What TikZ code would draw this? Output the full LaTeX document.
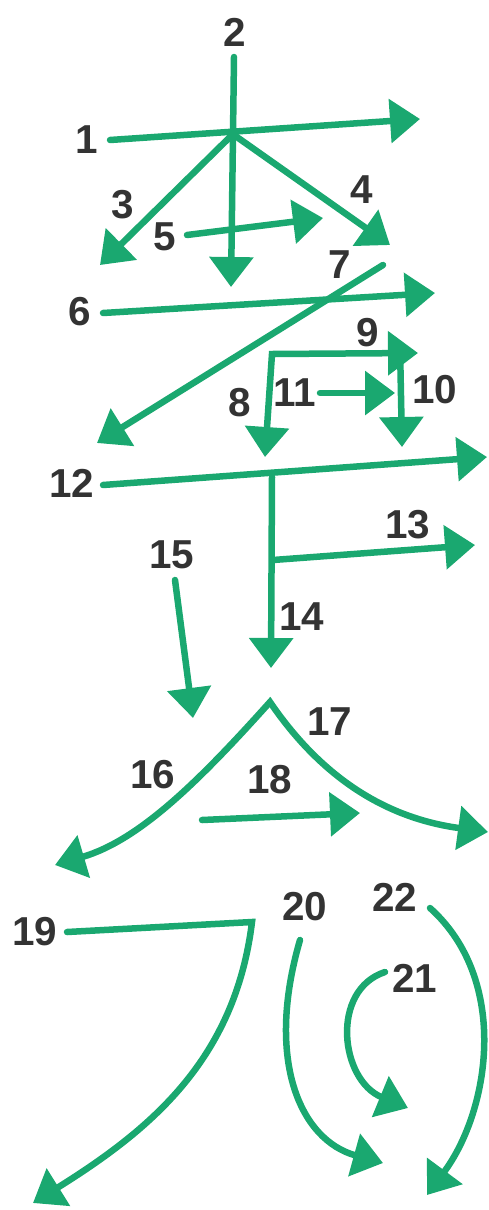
\documentclass[tikz,border=0pt]{standalone}
\usepackage{fontspec}
\setmainfont{Liberation Sans}
\usetikzlibrary{arrows.meta}
\definecolor{strokegreen}{RGB}{26,168,112}
\definecolor{numgray}{RGB}{51,51,51}
\begin{document}
\begin{tikzpicture}[x=0.02cm,y=-0.02cm,line join=round,line cap=round,
	stroke/.style={strokegreen,line width=0.13cm,-{Triangle[length=0.6cm,width=0.86cm]}},
	both/.style={stroke,{Triangle[length=0.6cm,width=0.86cm]}-{Triangle[length=0.6cm,width=0.86cm]},line join=miter},
	num/.style={text=numgray,font=\fontsize{23}{26}\selectfont\bfseries,inner sep=0pt}]
	\useasboundingbox (0,0) rectangle (489,1210);
	% stroke numbers
	\foreach \n/\x/\y in {1/87/140,2/235/32,3/123/205,4/362/190,5/165/237,6/80/312,
		7/340/265,8/240/403,9/368/333,10/435/390,11/295/393,12/72/483,13/408/525,
		14/302/617,15/172/555,16/153/775,17/330/722,18/270/780,19/35/932,20/305/907,
		21/415/978,22/395/897}
	\node[num] (n\n) at (\x,\y) {\n};
	% upper part
	\draw[stroke] (110,140)--(420,119);
	\draw[stroke] (234,57)--(231,287);
	\draw[stroke] (232,135)--(100,265);
	\draw[stroke] (234,135)--(390,245);
	\draw[stroke] (187,235)--(323,218);
	\draw[stroke] (103,313)--(435,293);
	\draw[stroke] (383,265)--(97,443);
	\draw[both] (265,457)--(272,354)--(418,353);
	\draw[stroke] (400,345)--(402,447);
	\draw[stroke] (320,393)--(395,393);
	\draw[stroke] (103,485)--(487,457);
	\draw[stroke] (272,477)--(271,668);
	\draw[stroke] (273,560)--(475,545);
	% middle part
	\draw[stroke] (175,580)--(193,718);
	\draw[both] (55,865) .. controls (140,840) and (200,780) .. (270,702)
		.. controls (330,790) and (400,820) .. (488,832);
	\draw[stroke] (202,820)--(360,813);
	% lower part
	\draw[stroke,line join=miter] (67,932)--(252,922) .. controls (235,1060) and (150,1130) .. (33,1203);
	\draw[stroke] (300,940) .. controls (265,1060) and (300,1140) .. (383,1163);
	\draw[stroke] (385,972) .. controls (330,990) and (340,1080) .. (408,1108);
	\draw[stroke] (430,908) .. controls (510,980) and (490,1110) .. (427,1195);
\end{tikzpicture}
\end{document}
